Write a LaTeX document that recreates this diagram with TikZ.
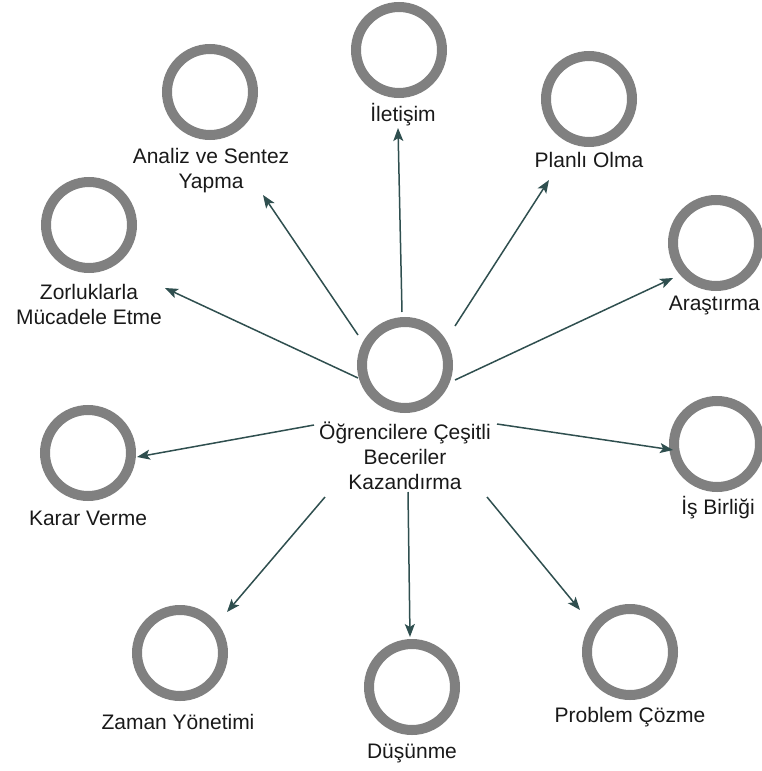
\documentclass[tikz,border=0pt]{standalone}
\usepackage{fontspec}
\setmainfont{Liberation Sans}
\usetikzlibrary{arrows.meta}
\definecolor{ringgray}{RGB}{128,128,128}
\definecolor{linkcol}{RGB}{47,79,79}
\definecolor{txtcol}{RGB}{25,25,25}
\begin{document}
\begin{tikzpicture}[x=1pt,y=-1pt,
  ring/.style={circle,draw=ringgray,line width=10pt,minimum size=86pt,inner sep=0pt,fill=white},
  lbl/.style={align=center,inner sep=0pt,text=txtcol,font=\fontsize{21}{25}\selectfont},
  conn/.style={draw=linkcol,line width=1.5pt,-{Stealth[length=13pt,width=10pt,inset=3pt]}}]
\useasboundingbox (0,0) rectangle (761,771);

% hub
\node[ring] (hub) at (405,365) {};
\node[lbl] (hubL) at (405,456) {Öğrencilere Çeşitli\\Beceriler\\Kazandırma};

% surrounding skills
\node[ring] (ilet) at (399,50) {};
\node[lbl] (iletL) at (403,115) {İletişim};
\node[ring] (plan) at (589,99) {};
\node[lbl] (planL) at (589,160) {Planlı Olma};
\node[ring] (aras) at (716,243) {};
\node[lbl,anchor=east] (arasL) at (760,305) {Araştırma};
\node[ring] (isb) at (717,444) {};
\node[lbl] (isbL) at (718,508) {İş Birliği};
\node[ring] (prob) at (630,652) {};
\node[lbl] (probL) at (630,717) {Problem Çözme};
\node[ring] (dus) at (412,687) {};
\node[lbl] (dusL) at (412,753) {Düşünme};
\node[ring] (zam) at (180,653) {};
\node[lbl] (zamL) at (178,722) {Zaman Yönetimi};
\node[ring] (kar) at (88,453) {};
\node[lbl] (karL) at (88,518) {Karar Verme};
\node[ring] (zor) at (89,225) {};
\node[lbl] (zorL) at (89,304) {Zorluklarla\\Mücadele Etme};
\node[ring] (ana) at (210,92) {};
\node[lbl] (anaL) at (211,171) {Analiz ve Sentez\\Yapma};

% connector ends
\coordinate (s1) at (402,312); \coordinate (t1) at (398,128);
\coordinate (s2) at (455,326); \coordinate (t2) at (549,180);
\coordinate (s3) at (455,380); \coordinate (t3) at (673,278);
\coordinate (s4) at (497,424); \coordinate (t4) at (673,450);
\coordinate (s5) at (487,497); \coordinate (t5) at (580,610);
\coordinate (s6) at (408,492); \coordinate (t6) at (410,637);
\coordinate (s7) at (325,497); \coordinate (t7) at (227,612);
\coordinate (s8) at (314,425); \coordinate (t8) at (137,457);
\coordinate (s9) at (358,378); \coordinate (t9) at (165,288);
\coordinate (s10) at (358,335); \coordinate (t10) at (263,195);

\foreach \i in {1,...,10} \draw[conn] (s\i) -- (t\i);
\end{tikzpicture}
\end{document}
